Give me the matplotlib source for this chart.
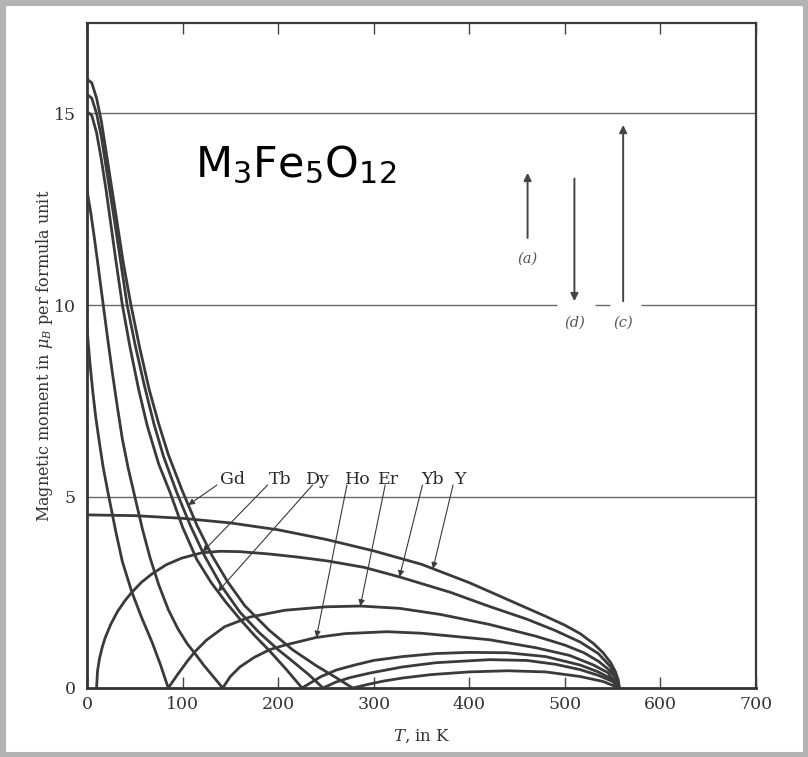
import numpy as np
import matplotlib
matplotlib.use("Agg")
import matplotlib.pyplot as plt
from matplotlib.patches import Rectangle

# Spontaneous magnetization of rare-earth iron garnets M3Fe5O12 (mu_B per formula unit)
gd_T = [0, 5, 10, 15, 20, 25, 30, 38, 46, 55, 65, 75, 85, 100, 115, 131, 147, 165, 191, 215, 240, 260, 278,
        295, 310, 330, 360, 400, 440, 480, 516, 540, 557]
gd_M = [15.9, 15.8, 15.4, 14.8, 14.0, 13.2, 12.4, 11.1, 10.0, 8.9, 7.8, 6.9, 6.1, 5.13, 4.25, 3.45, 2.78, 2.15,
        1.5, 1.0, 0.58, 0.28, 0.0,
        0.1, 0.18, 0.26, 0.35, 0.42, 0.45, 0.42, 0.3, 0.17, 0.0]

tb_T = [0, 5, 10, 15, 20, 25, 30, 36, 42, 50, 60, 70, 80, 94, 108, 123, 141, 160, 180, 200, 215, 232, 247,
        260, 275, 296, 330, 365, 421, 460, 490, 516, 535, 550, 557]
tb_M = [15.5, 15.4, 15.0, 14.4, 13.6, 12.8, 12.0, 11.0, 10.0, 9.0, 7.9, 6.9, 6.05, 5.1, 4.25, 3.45, 2.65, 1.98,
        1.45, 1.0, 0.7, 0.35, 0.0,
        0.15, 0.27, 0.39, 0.55, 0.66, 0.74, 0.72, 0.62, 0.48, 0.33, 0.17, 0.0]

dy_T = [0, 5, 10, 15, 20, 25, 30, 37, 45, 54, 63, 75, 87, 100, 115, 130, 145, 160, 175, 191, 208, 225,
        235, 245, 261, 280, 300, 330, 365, 400, 440, 480, 516, 535, 550, 557]
dy_M = [15.05, 14.95, 14.5, 13.8, 13.0, 12.1, 11.2, 10.0, 8.9, 7.8, 6.85, 5.85, 5.1, 4.2, 3.35, 2.75, 2.25,
        1.8, 1.38, 0.97, 0.5, 0.0,
        0.15, 0.3, 0.47, 0.6, 0.72, 0.82, 0.9, 0.93, 0.92, 0.82, 0.6, 0.42, 0.22, 0.0]

ho_T = [0, 4, 8, 12, 17, 22, 27, 32, 37, 43, 50, 58, 66, 75, 85, 95, 105, 113, 122, 132, 142,
        150, 160, 175, 191, 207, 240, 270, 314, 350, 421, 470, 505, 530, 545, 557]
ho_M = [13.0, 12.4, 11.7, 10.95, 10.0, 9.05, 8.15, 7.3, 6.5, 5.75, 5.0, 4.15, 3.4, 2.7, 2.05, 1.55, 1.15, 0.9,
        0.6, 0.3, 0.0,
        0.3, 0.55, 0.8, 1.0, 1.12, 1.32, 1.42, 1.47, 1.43, 1.26, 1.05, 0.85, 0.6, 0.4, 0.0]

er_T = [0, 3, 6, 9, 13, 17, 22, 30, 37, 47, 57, 68, 77, 85,
        95, 105, 113, 125, 144, 170, 207, 250, 286, 327, 370, 421, 470, 500, 520, 535, 545, 552, 557]
er_M = [9.4, 8.5, 7.75, 7.1, 6.4, 5.75, 5.1, 4.1, 3.3, 2.5, 1.85, 1.2, 0.6, 0.0,
        0.36, 0.7, 0.95, 1.25, 1.6, 1.85, 2.03, 2.12, 2.14, 2.08, 1.92, 1.66, 1.35, 1.12, 0.92, 0.7, 0.5, 0.3, 0.0]

yb_T = [10, 11, 13, 16, 19, 25, 32, 40, 47, 57, 68, 83, 99, 120, 139, 160, 190, 220, 251, 290,
        327, 380, 421, 460, 490, 516, 535, 548, 557]
yb_M = [0.0, 0.44, 0.76, 1.07, 1.31, 1.67, 2.0, 2.29, 2.5, 2.76, 2.98, 3.22, 3.39, 3.53, 3.57, 3.56, 3.5, 3.42,
        3.32, 3.15, 2.9, 2.5, 2.13, 1.8, 1.5, 1.2, 0.9, 0.55, 0.0]

y_T = [0, 50, 100, 150, 200, 250, 300, 350, 400, 421, 450, 480, 500, 516, 530, 540, 548, 553, 556, 557]
y_M = [4.52, 4.5, 4.43, 4.31, 4.13, 3.88, 3.58, 3.23, 2.75, 2.52, 2.2, 1.87, 1.64, 1.42, 1.16, 0.92, 0.66, 0.42,
       0.2, 0.0]

elements = ["Gd", "Tb", "Dy", "Ho", "Er", "Yb", "Y"]
curves = {"Gd": (gd_T, gd_M), "Tb": (tb_T, tb_M), "Dy": (dy_T, dy_M), "Ho": (ho_T, ho_M),
          "Er": (er_T, er_M), "Yb": (yb_T, yb_M), "Y": (y_T, y_M)}

# label position (T) and where each pointer starts / meets its curve
label_T = [152, 202, 242, 283, 315, 362, 390]
pointer_start_T = [136, 189, 236, 272, 312, 351, 383]
pointer_tip_T = [106, 121, 137, 240, 286, 327, 362]

# sublattice moment arrows
sub_names = ["(a)", "(d)", "(c)"]
sub_T = [461, 510, 561]
sub_base = [11.75, 13.3, 10.1]
sub_len = [1.7, -3.2, 4.6]

x_ticks = [0, 100, 200, 300, 400, 500, 600, 700]
y_ticks = [0, 5, 10, 15]

W, H = 808, 757
fig = plt.figure(figsize=(W / 100, H / 100), dpi=100)
fig.patch.set_facecolor("white")
fig.patches.append(Rectangle((0, 0), 1, 1, transform=fig.transFigure, fill=False,
                             edgecolor="#b3b3b3", linewidth=8, zorder=10))

ax = fig.add_axes([87 / W, 1 - 688 / H, (756 - 87) / W, (688 - 23) / H])
ax.set_xlim(0, 700)
ax.set_ylim(0, (688 - 23) / 38.3)

ink = "#3a3a3a"
serif = "DejaVu Serif"

# horizontal reference lines
ax.hlines(5, 0, 700, color="#6a6a6a", lw=1.0, zorder=1)
ax.hlines(15, 0, 700, color="#6a6a6a", lw=1.0, zorder=1)
ax.hlines([10, 10, 10], [0, 532, 580], [492, 547, 700], color="#6a6a6a", lw=1.0, zorder=1)

for name in elements:
    T, M = curves[name]
    ax.plot(T, M, color=ink, lw=2.0, solid_capstyle="round", solid_joinstyle="round", zorder=3)

label_M = 5.45
for name, lt, st, tt in zip(elements, label_T, pointer_start_T, pointer_tip_T):
    T, M = curves[name]
    tip_M = float(np.interp(tt, T, M))
    ax.text(lt, label_M, name, fontsize=12.5, family=serif, color="#2a2a2a",
            ha="center", va="center", zorder=5)
    ax.annotate("", xy=(tt, tip_M), xytext=(st, 5.3),
                arrowprops=dict(arrowstyle="-|>", lw=0.8, color="#3a3a3a",
                                mutation_scale=9, shrinkA=0, shrinkB=0), zorder=4)

for nm, t, b, ln in zip(sub_names, sub_T, sub_base, sub_len):
    ax.annotate("", xy=(t, b + ln), xytext=(t, b),
                arrowprops=dict(arrowstyle="-|>", lw=1.4, color="#444444",
                                mutation_scale=11, shrinkA=0, shrinkB=0), zorder=4)
    label_y = min(b, b + ln) - 0.55
    ax.text(t, label_y, nm, fontsize=10.5, family=serif, style="italic", color="#555555",
            ha="center", va="center")

ax.text(218, 13.66, r"M$_3$Fe$_5$O$_{12}$", fontsize=31, family="DejaVu Sans",
        math_fontfamily="dejavusans", color="black", ha="center", va="center")

ax.set_xticks(x_ticks)
ax.set_xticklabels([str(v) for v in x_ticks], family=serif, fontsize=12.5, color="#333333")
ax.set_yticks(y_ticks)
ax.set_yticklabels([str(v) for v in y_ticks], family=serif, fontsize=12.5, color="#333333")
ax.tick_params(axis="x", direction="in", length=8, width=1.0, color="#444444",
               top=True, pad=6)
ax.tick_params(axis="y", length=0, pad=8)

ax.set_xlabel(r"$T$, in K", family=serif, fontsize=12, color="#333333",
              math_fontfamily="dejavuserif", labelpad=10)
ax.set_ylabel(r"Magnetic moment in $\mu_B$ per formula unit", family=serif, fontsize=11.5,
              color="#333333", math_fontfamily="dejavuserif", labelpad=-1)

for side in ["left", "bottom"]:
    ax.spines[side].set_linewidth(2.0)
    ax.spines[side].set_color("#333333")
for side in ["top", "right"]:
    ax.spines[side].set_linewidth(1.6)
    ax.spines[side].set_color("#3a3a3a")

fig.savefig("out.png", dpi=100)
